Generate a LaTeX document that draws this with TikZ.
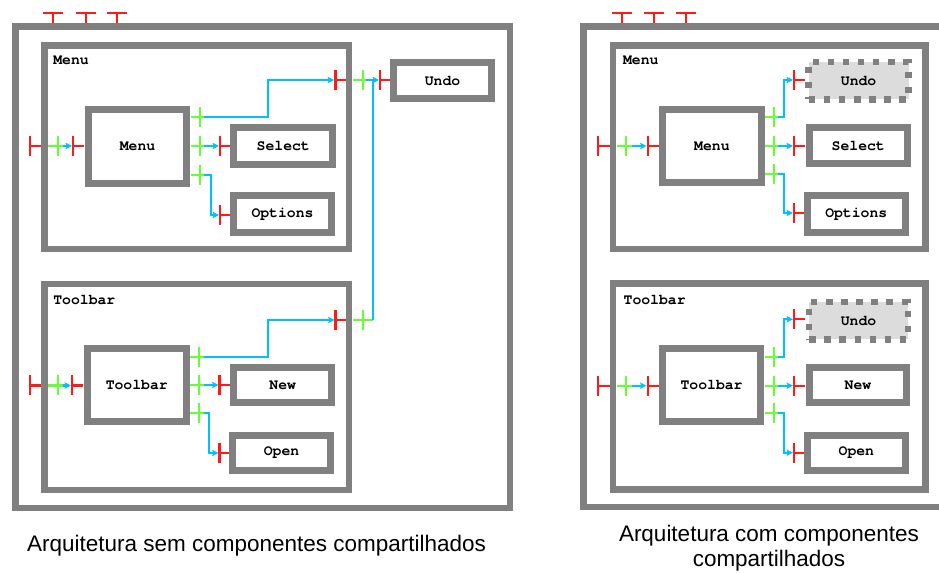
\documentclass[tikz,border=0pt]{standalone}
\usepackage{fontspec}
\setmainfont{Liberation Sans}
\newfontfamily\boxmono{TeX Gyre Cursor}
\usetikzlibrary{arrows.meta,fit}
\definecolor{bgray}{HTML}{808080}
\definecolor{pred}{HTML}{FF1A1A}
\definecolor{pgreen}{HTML}{66FF33}
\definecolor{cblue}{HTML}{00C0FF}
\definecolor{ufill}{HTML}{DCDCDC}
\newcommand{\portRedH}[3]{\draw[rp] (#1,#3-10) -- (#1,#3+10) (#1,#3) -- (#2,#3);}
\newcommand{\portGreenH}[4]{\draw[gp] (#1,#4) -- (#3,#4) (#2,#4-10) -- (#2,#4+10);}
\newcommand{\portRedV}[1]{\draw[rp] (#1-10,13) -- (#1+10,13) (#1,13) -- (#1,23);}
\begin{document}
\begin{tikzpicture}[x=0.02cm,y=-0.02cm,
  frame/.style={draw=bgray, line width=3.97pt, inner sep=0pt, outer sep=0pt},
  sz/.style 2 args={minimum width=#1*0.5669pt, minimum height=#2*0.5669pt},
  blk/.style={frame, fill=white, font=\boxmono\bfseries\fontsize{8.4pt}{10pt}\selectfont},
  ghost/.style={draw=bgray, fill=ufill, line width=3.7pt, dash pattern=on 3.7pt off 4.9pt, inner sep=0pt, outer sep=0pt, font=\boxmono\bfseries\fontsize{8.4pt}{10pt}\selectfont},
  lbl/.style={anchor=base west, inner sep=0pt, font=\boxmono\bfseries\fontsize{8.4pt}{10pt}\selectfont},
  rp/.style={draw=pred, line width=1.2pt},
  gp/.style={draw=pgreen, line width=1.2pt},
  conn/.style={draw=cblue, line width=1.2pt, -{Stealth[length=3.6pt,width=3.6pt,inset=0.6pt]}},
  bline/.style={draw=cblue, line width=1.2pt},
  captxt/.style={font=\fontsize{12.8pt}{14.2pt}\selectfont, inner sep=0pt, align=center}
]
\useasboundingbox (0,0) rectangle (939,573);
\clip (0,0) rectangle (939,573);

% ================= LEFT =================
\node[frame, fit={(15.5,26.5) (510,508)}] (outerL) {};
\portRedV{53}\portRedV{86}\portRedV{117}

\node[frame, fit={(44.5,45.5) (349,249)}] (menuC) {};
\node[lbl] (menuCl) at (53,65) {Menu};
\node[blk, sz={99}{74}] (menuB) at (137.5,146.5) {Menu};
\node[blk, sz={99.5}{37.5}] (selL) at (283.25,145.75) {Select};
\node[blk, sz={99}{37.5}] (optL) at (282.5,214.25) {Options};
\node[blk, sz={99}{36.5}] (undoL) at (442.5,80.75) {Undo};

\node[frame, fit={(44.5,284) (349,490)}] (tbC) {};
\node[lbl] (tbCl) at (53,304.3) {Toolbar};
\node[blk, sz={99.5}{73.5}] (tbB) at (136.75,385.25) {Toolbar};
\node[blk, sz={98.5}{36}] (newL) at (282.75,385) {New};
\node[blk, sz={98}{35}] (openL) at (281.5,453) {Open};

% menu container entry
\portRedH{30}{41}{146}
\portGreenH{48}{58}{64}{146}
\draw[conn] (63,146) -- (72,146);
\portRedH{73}{84}{146}
% menu block outputs
\portGreenH{191}{200}{205}{117}
\portGreenH{191}{200}{205}{146}
\portGreenH{191}{200}{205}{175}
\coordinate (mo1) at (204,117); \coordinate (mi1) at (334,80);
\draw[conn] (mo1) -| (268,100) |- (mi1);
\portRedH{335.5}{345.5}{80}
\coordinate (mo2) at (204,146); \coordinate (mi2) at (219,146);
\draw[conn] (mo2) -- (mi2);
\portRedH{220}{230}{146}
\coordinate (mo3) at (204,175); \coordinate (mi3) at (219,215);
\draw[conn] (mo3) -| (210.7,195) |- (mi3);
\portRedH{220}{229.5}{215}
% undo link
\portGreenH{352.5}{362.7}{368}{80}
\portGreenH{352.5}{362.7}{372.7}{320}
\coordinate (tu) at (372.7,320); \coordinate (ui) at (379,80);
\draw[bline] (366,80) -- (372.7,80);
\draw[conn] (tu) |- (ui);
\portRedH{380}{389.5}{80}

% toolbar container entry
\portRedH{30}{41}{385.5}
\portGreenH{48}{58}{64}{385.5}
\draw[conn] (63,385.5) -- (71,385.5);
\portRedH{72}{83}{385.5}
% toolbar block outputs
\portGreenH{190}{199}{205}{356.7}
\portGreenH{190}{199}{205}{385}
\portGreenH{190}{199}{205}{413}
\coordinate (to1) at (204,356.7); \coordinate (ti1) at (334.5,320);
\draw[conn] (to1) -| (267.7,340) |- (ti1);
\portRedH{335.5}{345.5}{320}
\coordinate (to2) at (204,385); \coordinate (ti2) at (218.5,385);
\draw[conn] (to2) -- (ti2);
\portRedH{219.5}{230}{385}
\coordinate (to3) at (204,413); \coordinate (ti3) at (218.5,453);
\draw[conn] (to3) -| (209,433) |- (ti3);
\portRedH{219.5}{229}{453}

% ================= RIGHT =================
\draw[draw=bgray, line width=3.97pt] (950,26.5) -- (583.5,26.5) -- (583.5,507) -- (950,507);
\portRedV{622}\portRedV{654}\portRedV{686}

\node[frame, fit={(613,45.5) (925.5,249)}] (menuC2) {};
\node[lbl] (menuC2l) at (622.7,65) {Menu};
\node[blk, sz={98.8}{73.5}] (menuB2) at (711.9,146.25) {Menu};
\node[ghost, sz={100.2}{37.5}] (undoM) at (858.6,80.75) {Undo};
\node[blk, sz={98.5}{36.5}] (selR) at (858.25,145.75) {Select};
\node[blk, sz={98.5}{37}] (optR) at (856.25,214.2) {Options};

\node[frame, fit={(613,283.5) (925.5,489.5)}] (tbC2) {};
\node[lbl] (tbC2l) at (623.3,304.3) {Toolbar};
\node[blk, sz={98.2}{73.5}] (tbB2) at (711.6,385.25) {Toolbar};
\node[ghost, sz={99}{37.8}] (undoT) at (858.5,320.6) {Undo};
\node[blk, sz={98}{36}] (newR) at (858,385) {New};
\node[blk, sz={98.7}{35.8}] (openR) at (856.35,452.9) {Open};

% menu (right)
\portRedH{598}{609.5}{146}
\portGreenH{616.5}{626}{633}{146}
\draw[conn] (632,146) -- (646.5,146);
\portRedH{647.7}{658.5}{146}
\portGreenH{765}{774.3}{779}{117}
\portGreenH{765}{774.3}{779}{146}
\portGreenH{765}{774.3}{779}{174}
\coordinate (no1) at (778,117); \coordinate (ni1) at (793,80);
\draw[conn] (no1) -| (784,100) |- (ni1);
\portRedH{794.3}{805}{80}
\coordinate (no2) at (778,146); \coordinate (ni2) at (793,146);
\draw[conn] (no2) -- (ni2);
\portRedH{794.3}{805}{146}
\coordinate (no3) at (778,174); \coordinate (ni3) at (793,213);
\draw[conn] (no3) -| (784,195) |- (ni3);
\portRedH{794.3}{803.5}{213}

% toolbar (right)
\portRedH{598}{609.5}{385.7}
\portGreenH{616.5}{626}{633}{385.7}
\draw[conn] (632,385.7) -- (646.5,385.7);
\portRedH{647.7}{658.5}{385.7}
\portGreenH{764.5}{774.3}{779}{357.3}
\portGreenH{764.5}{774.3}{779}{385.7}
\portGreenH{764.5}{774.3}{779}{413.3}
\coordinate (po1) at (778,357.3); \coordinate (pi1) at (793,319.3);
\draw[conn] (po1) -| (784,340) |- (pi1);
\portRedH{794.3}{805}{319.3}
\coordinate (po2) at (778,385.7); \coordinate (pi2) at (793,385.7);
\draw[conn] (po2) -- (pi2);
\portRedH{794.3}{805}{385.7}
\coordinate (po3) at (778,413.3); \coordinate (pi3) at (793,452.7);
\draw[conn] (po3) -| (784,433) |- (pi3);
\portRedH{794.3}{803.5}{452.7}

% captions
\node[captxt, anchor=base] (capL) at (256.5,551) {Arquitetura sem componentes compartilhados};
\node[captxt, anchor=base] (capR) at (769,566.5) {Arquitetura com componentes\\compartilhados};
\end{tikzpicture}
\end{document}
